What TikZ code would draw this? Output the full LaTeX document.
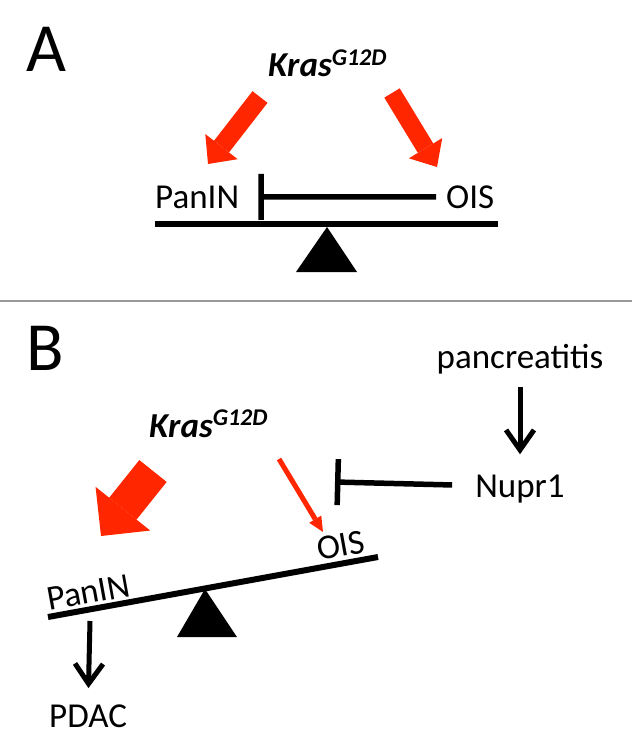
\documentclass[tikz,border=0pt]{standalone}
\usepackage{fontspec}
\setmainfont{Carlito}
\usepackage{tikz}
\usetikzlibrary{arrows.meta}
\usetikzlibrary{positioning}
\definecolor{krasred}{RGB}{255,38,0}
\newcommand{\krasg}{{\bfseries\itshape Kras\raisebox{11.5pt}{\fontsize{24}{24}\selectfont G12D}}}

\begin{document}
\begin{tikzpicture}[x=1pt, y=-1pt,
txt/.style={inner sep=0pt, font=\fontsize{35}{40}\selectfont},
lbl/.style={inner sep=0pt, font=\fontsize{69}{70}\selectfont},
beam/.style={line width=6pt},
fat/.style={draw=krasred, line width=#1},
blk/.style={line width=5pt, -{Straight Barb[length=20pt, width=28pt]}},
inh/.style={line width=5.5pt, -{Bar[width=46pt]}}]
\useasboundingbox (0,0) rectangle (632,754);

\node[lbl, anchor=base west] (A) at (26,72) {A};
\node[txt, anchor=base west] (kA) at (268,77) {\krasg};
\node[txt, anchor=base west] (panA) at (155,208) {PanIN};
\node[txt, anchor=base west] (oisA) at (446,208) {OIS};
\coordinate (a1) at (260,97);
\coordinate (a2) at (208,164);
\coordinate (a3) at (392,93);
\coordinate (a4) at (437,167);
\draw[fat=19pt, -{Triangle[length=22pt, width=41pt, line width=0pt]}] (a1) -- (a2);
\draw[fat=18pt, -{Triangle[length=22pt, width=39pt, line width=0pt]}] (a3) -- (a4);
\draw[inh, shorten <=10pt, shorten >=19pt] (oisA.west) -- (panA.east);
\draw[beam] (155,224) -- (498,224);
\fill (327,227) -- (296,272) -- (357,272) -- cycle;

\draw[black!40, line width=2pt] (0,301) -- (632,301);

\node[lbl, anchor=base west] (B) at (26,370) {B};
\node[txt, anchor=base] (panc) at (520,368) {pancreatitis};
\node[txt, anchor=base] (nupr) at (520,497) {Nupr1};
\node[txt, anchor=base west] (kB) at (149,437) {\krasg};
\node[txt, anchor=base west, rotate=10.3] (panB) at (49,611) {PanIN};
\node[txt, anchor=base west, rotate=10.3] (oisB) at (319,561) {OIS};
\node[txt, anchor=base west] (pdac) at (49,727) {PDAC};
\coordinate (b1) at (153,471);
\coordinate (b2) at (101,536);
\coordinate (b3) at (279,459);
\coordinate (b4) at (323,532);
\coordinate (stopB) at (335,482);
\coordinate (footB) at (90,621);
\draw[fat=35pt, -{Triangle[length=35pt, width=70pt, line width=0pt]}] (b1) -- (b2);
\draw[fat=5pt, -{Triangle[length=15pt, width=14pt, line width=0pt]}] (b3) -- (b4);
\draw[blk, shorten <=13pt, shorten >=20pt] (panc.south) -- (nupr.north);
\draw[inh, shorten <=23pt] ([yshift=3pt]nupr.west) -- (stopB);
\draw[blk, shorten >=16pt] (footB) -- (pdac.north);
\draw[beam] (48,617) -- (378,557);
\fill (205,589) -- (177,637) -- (237,637) -- cycle;
\end{tikzpicture}
\end{document}
